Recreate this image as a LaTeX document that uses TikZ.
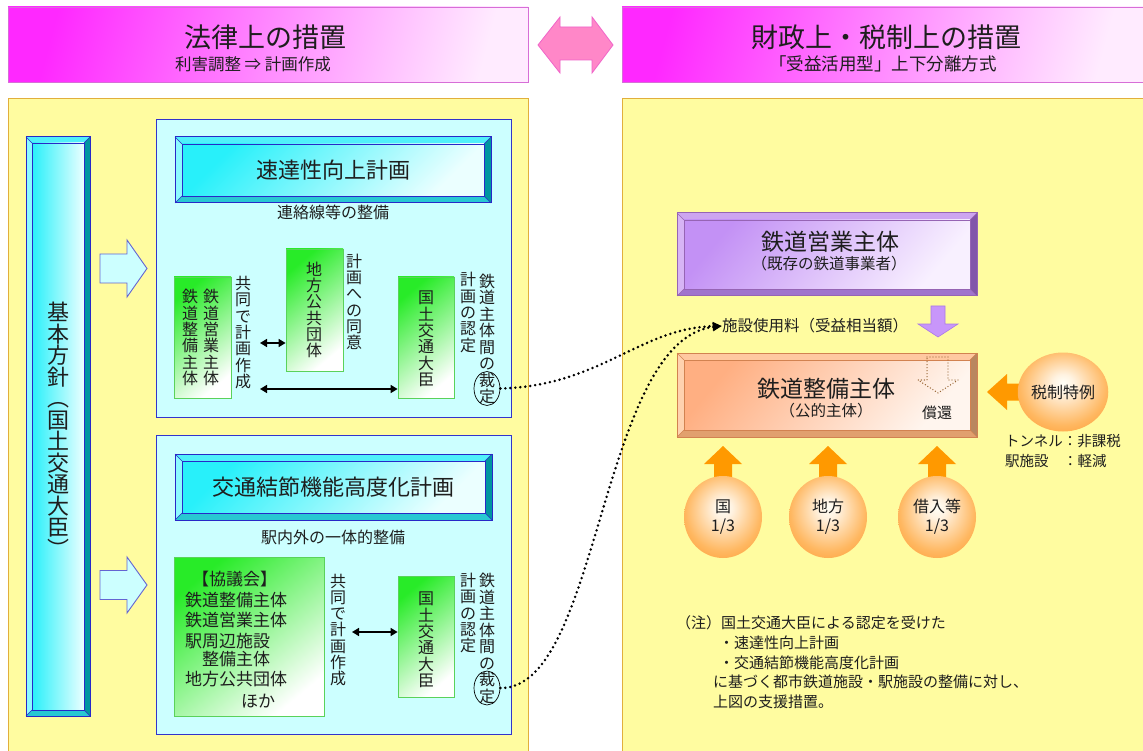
\documentclass[tikz,border=0pt]{standalone}
\usepackage{fontspec}
\setmainfont{Noto Sans CJK JP}
\usetikzlibrary{arrows.meta,shapes.geometric,calc}
\definecolor{yel}{RGB}{255,252,160}
\definecolor{yelLine}{RGB}{225,175,60}
\definecolor{cyPanel}{RGB}{204,255,255}
\definecolor{navy}{RGB}{51,51,204}
\definecolor{cyT}{RGB}{80,240,250}
\definecolor{cyL}{RGB}{140,250,255}
\definecolor{cyR}{RGB}{0,150,160}
\definecolor{cyB}{RGB}{40,200,210}
\definecolor{cyD}{RGB}{40,40,200}
\definecolor{cyA}{RGB}{40,240,250}
\definecolor{cyW}{RGB}{235,255,255}
\definecolor{puT}{RGB}{205,165,240}
\definecolor{puL}{RGB}{215,180,245}
\definecolor{puR}{RGB}{130,85,170}
\definecolor{puB}{RGB}{160,115,205}
\definecolor{puD}{RGB}{150,100,180}
\definecolor{puA}{RGB}{195,145,245}
\definecolor{puW}{RGB}{248,240,255}
\definecolor{orT}{RGB}{255,200,160}
\definecolor{orL}{RGB}{255,210,175}
\definecolor{orR}{RGB}{185,135,95}
\definecolor{orB}{RGB}{225,160,110}
\definecolor{orD}{RGB}{210,130,80}
\definecolor{orA}{RGB}{255,175,130}
\definecolor{orW}{RGB}{255,245,238}
\definecolor{gA}{RGB}{40,235,40}
\definecolor{gLine}{RGB}{90,210,90}
\definecolor{hdA}{RGB}{255,40,255}
\definecolor{hdB}{RGB}{255,235,255}
\definecolor{hdLine}{RGB}{215,110,215}
\definecolor{pinkA}{RGB}{255,135,200}
\definecolor{pinkLine}{RGB}{240,100,200}
\definecolor{orng}{RGB}{255,153,0}
\definecolor{arrFill}{RGB}{204,255,255}
\definecolor{arrLine}{RGB}{100,100,210}
\definecolor{puArr}{RGB}{200,150,250}
\definecolor{puArrLine}{RGB}{170,120,230}
\definecolor{txt}{RGB}{30,30,30}
\definecolor{dotBrown}{RGB}{150,100,50}
\pgfdeclareradialshading{orb}{\pgfpoint{0bp}{6bp}}{rgb(0bp)=(1,1,0.97); rgb(6bp)=(1,0.95,0.88); rgb(24bp)=(1,0.72,0.38); rgb(38bp)=(1,0.58,0.15); rgb(50bp)=(1,0.55,0.1)}
\newcommand\fs[2]{\fontsize{#1}{#2}\selectfont}
% #1 name #2 x1 #3 y1 #4 x2 #5 y2 #6 prefix #7 bevel #8 node options #9 text
\newcommand\bevelnode[9]{%
 \fill[#6T] (#2,#3) -- (#4,#3) -- ({#4-#7},{#3+#7}) -- ({#2+#7},{#3+#7}) -- cycle;
 \fill[#6L] (#2,#3) -- ({#2+#7},{#3+#7}) -- ({#2+#7},{#5-#7}) -- (#2,#5) -- cycle;
 \fill[#6R] (#4,#3) -- (#4,#5) -- ({#4-#7},{#5-#7}) -- ({#4-#7},{#3+#7}) -- cycle;
 \fill[#6B] (#2,#5) -- (#4,#5) -- ({#4-#7},{#5-#7}) -- ({#2+#7},{#5-#7}) -- cycle;
 \node[#6in, minimum width={(#4-#2-2*#7)*1pt}, minimum height={(#5-#3-2*#7)*1pt}, #8] (#1) at ({(#2+#4)/2},{(#3+#5)/2}) {#9};
 \draw[#6D, line width=0.5pt] (#2,#3) -- ({#2+#7},{#3+#7}) (#4,#3) -- ({#4-#7},{#3+#7}) (#2,#5) -- ({#2+#7},{#5-#7}) (#4,#5) -- ({#4-#7},{#5-#7});
 \draw[#6D, line width=1pt] (#2,#3) rectangle (#4,#5);
}
\begin{document}
\begin{tikzpicture}[x=1pt,y=-1pt,
  every node/.style={text=txt},
  hdr/.style={draw=hdLine, line width=0.8pt, left color=hdA, right color=hdB, shading angle=75},
  panel/.style={draw=yelLine, fill=yel, line width=0.8pt, anchor=north west, inner sep=0},
  cpanel/.style={draw=navy, fill=cyPanel, line width=1pt, anchor=north west, inner sep=0},
  cyin/.style={inner sep=0, top color=cyA, bottom color=cyW, shading angle=45, draw=cyD, line width=0.6pt},
  cyvin/.style={inner sep=0, left color=cyA, right color=cyW, draw=cyD, line width=0.6pt},
  puin/.style={inner sep=0, top color=puA, bottom color=puW, shading angle=50, draw=puD, line width=0.5pt},
  orin/.style={inner sep=0, top color=orA, bottom color=orW, shading angle=50, draw=orD, line width=0.5pt},
  gbox/.style={draw=gLine, line width=0.8pt, top color=gA, bottom color=white, shading angle=40, inner sep=0},
  vt/.style={font=\fs{16}{16.3}, align=center, inner sep=0},
  lbl/.style={inner sep=0},
  hollow/.style={draw=arrLine, fill=arrFill, line width=0.9pt, line join=miter},
  blk/.style={fill=orng},
  dblarr/.style={line width=1.5pt, {Triangle[length=7pt,width=8pt]}-{Triangle[length=7pt,width=8pt]}},
  dotconn/.style={line width=2.8pt, dash pattern=on 0pt off 5pt, line cap=round, -{Triangle[length=9pt,width=8pt]}},
  orbn/.style={ellipse, shading=orb, inner sep=0, align=center, font=\fs{16}{19}},
  ovl/.style={ellipse, draw=black, line width=0.7pt, inner sep=0}
]
\useasboundingbox (0,0) rectangle (1143,751);
\fill[white] (0,0) rectangle (1143,751);

% ---------- headers ----------
\node[hdr, minimum width=520pt, minimum height=75pt] (hL) at (268,44.5) {};
\node[lbl, font=\fs{27}{30}] (hLt) at (265,37) {法律上の措置};
\node[lbl, font=\fs{16.5}{18}] (hLs) at (253,64) {利害調整 ⇒ 計画作成};
\node[hdr, minimum width=524pt, minimum height=75pt] (hR) at (884,44.5) {};
\node[lbl, font=\fs{27}{30}] (hRt) at (886,37) {財政上・税制上の措置};
\node[lbl, font=\fs{17.5}{18}] (hRs) at (883,64) {「受益活用型」上下分離方式};
\draw[draw=pinkLine, fill=pinkA, line width=0.8pt, line join=miter]
  (538,45) -- (560,17) -- (560,27) -- (592,27) -- (592,17) -- (613,45)
  -- (592,73) -- (592,60) -- (560,60) -- (560,73) -- cycle;

% ---------- panels ----------
\node[panel, minimum width=520pt, minimum height=670pt] (pL) at (8,98) {};
\node[panel, minimum width=530pt, minimum height=670pt] (pR) at (622,98) {};

% ---------- left: basic policy ----------
\bevelnode{kihon}{26}{137}{90}{716}{cy}{6}{cyvin}{}
\node[lbl, font=\fs{22}{21.5}, align=center] (kihonT) at (58,430)
  {基\\本\\方\\針\\︵\\国\\土\\交\\通\\大\\臣\\︶};

\draw[hollow] (100,254) -- (127,254) -- (127,240) -- (147,268.5) -- (127,297) -- (127,283) -- (100,283) -- cycle;
\draw[hollow] (100,570.5) -- (127,570.5) -- (127,557) -- (147,585) -- (127,613) -- (127,599.5) -- (100,599.5) -- cycle;

% ---------- upper plan ----------
\node[cpanel, minimum width=355pt, minimum height=298pt] (cA) at (156,119) {};
\bevelnode{tA}{175}{137}{491}{203}{cy}{7}{font=\fs{22}{24}}{速達性向上計画}
\node[lbl, font=\fs{16}{18}] (tAsub) at (333,212) {連絡線等の整備};

\node[gbox, minimum width=57pt, minimum height=121pt] (g1) at (202.5,337.5) {};
\node[vt] (g1r) at (211,337.5) {鉄\\道\\営\\業\\主\\体};
\node[vt] (g1l) at (190,337.5) {鉄\\道\\整\\備\\主\\体};
\node[vt] (kyA) at (243,332.5) {共\\同\\で\\計\\画\\作\\成};
\node[gbox, minimum width=57pt, minimum height=122pt] (g2) at (314.5,310) {};
\node[vt] (g2t) at (314,310) {地\\方\\公\\共\\団\\体};
\node[vt] (doi) at (354,302) {計\\画\\へ\\の\\同\\意};
\node[gbox, minimum width=56pt, minimum height=121pt] (g3) at (426,337.5) {};
\node[vt] (g3t) at (426,339) {国\\土\\交\\通\\大\\臣};
\node[vt] (ninA) at (468,312.5) {計\\画\\の\\認\\定};
\node[vt, font=\fs{16}{16.5}] (saiA) at (487,339) {鉄\\道\\主\\体\\間\\の\\裁\\定};
\node[ovl, minimum width=26pt, minimum height=34pt] (ovA) at (487,388.5) {};

\coordinate (a1s) at (260,343);
\draw[dblarr] (a1s) -- (a1s -| g2.west);
\coordinate (a2s) at (260,389);
\draw[dblarr] (a2s) -- (a2s -| g3.west);

% ---------- lower plan ----------
\node[cpanel, minimum width=355pt, minimum height=299pt] (cB) at (156,435) {};
\bevelnode{tB}{175}{454}{492}{520}{cy}{7}{font=\fs{22}{24}}{交通結節機能高度化計画}
\node[lbl, font=\fs{16}{18}] (tBsub) at (333,537) {駅内外の一体的整備};

\node[gbox, minimum width=150pt, minimum height=159pt] (g4) at (249,636.5) {};
\node[lbl, font=\fs{17}{20.5}, align=left, anchor=north west] (g4t) at (185,571)
  {\hspace*{7pt}【協議会】\\鉄道整備主体\\鉄道営業主体\\駅周辺施設\\[-2.5pt]\hspace*{17pt}整備主体\\地方公共団体\\[1pt]\hspace*{56pt}ほか};
\node[vt] (kyB) at (338,630) {共\\同\\で\\計\\画\\作\\成};
\node[gbox, minimum width=56pt, minimum height=121pt] (g5) at (426,636.5) {};
\node[vt] (g5t) at (426,640) {国\\土\\交\\通\\大\\臣};
\node[vt] (ninB) at (468,613) {計\\画\\の\\認\\定};
\node[vt, font=\fs{16}{16.5}] (saiB) at (487,638.5) {鉄\\道\\主\\体\\間\\の\\裁\\定};
\node[ovl, minimum width=26pt, minimum height=34pt] (ovB) at (487,688) {};

\coordinate (a3s) at (352,632);
\draw[dblarr] (a3s) -- (a3s -| g5.west);

% ---------- right side ----------
\bevelnode{eigyo}{677}{213}{977}{296}{pu}{7}{}{}
\node[lbl, font=\fs{23}{26}] (eigyoT) at (830,242) {鉄道営業主体};
\node[lbl, font=\fs{15.5}{18}] (eigyoS) at (829,264) {（既存の鉄道事業者）};

\draw[fill=puArr, draw=puArrLine, line width=0.6pt, line join=miter]
  (931,306) -- (945,306) -- (945,324) -- (958,324) -- (938,337) -- (918,324) -- (931,324) -- cycle;
\node[lbl, font=\fs{15.5}{18}] (fee) at (815,326) {施設使用料（受益相当額）};

\bevelnode{seibi}{677}{353}{977}{437}{or}{7}{}{}
\node[lbl, font=\fs{23}{26}] (seibiT) at (826,389) {鉄道整備主体};
\node[lbl, font=\fs{15.5}{18}] (seibiS) at (826,411) {（公的主体）};
\draw[dotBrown, line width=1.4pt, dash pattern=on 0pt off 3pt, line cap=round]
  (927,357) -- (948,357) -- (948,380) -- (958,380) -- (938,393) -- (918,380) -- (927,380) -- cycle;
\node[lbl, font=\fs{15}{18}] (shokan) at (937,413) {償還};

% tax arrow + circle
\fill[blk] (1032,383.5) -- (1007,383.5) -- (1007,374) -- (987,392) -- (1007,410) -- (1007,400.5) -- (1032,400.5) -- cycle;
\node[orbn, minimum width=86pt, minimum height=79pt] (zei) at (1063,392) {税制特例};
\node[lbl, font=\fs{14.5}{20}, align=left, anchor=west] (zeiT) at (1005,451) {トンネル：非課税\\駅施設　：軽減};

% funding arrows + circles
\foreach \cx/\nm/\tx in {723/kuni/国, 828/chiho/地方, 937/kari/借入等}{
  \fill[blk] (\cx-9,484) -- (\cx-9,464) -- (\cx-19,464) -- (\cx,446) -- (\cx+19,464) -- (\cx+9,464) -- (\cx+9,484) -- cycle;
  \node[orbn, minimum width=78pt, minimum height=82pt] (\nm) at (\cx,517) {\tx\\1/3};
}

% note
\node[lbl, font=\fs{15}{19.75}, align=left, anchor=north west] (note) at (676,615.5)
  {（注）国土交通大臣による認定を受けた\\\hspace*{43pt}・速達性向上計画\\\hspace*{43pt}・交通結節機能高度化計画\\\hspace*{37pt}に基づく都市鉄道施設・駅施設の整備に対し、\\\hspace*{37pt}上図の支援措置。};

% dotted connectors
\draw[dotconn] (ovA.east) .. controls (600,386) and (640,328) .. (fee.west);
\draw[dotconn] (ovB.east) .. controls (600,690) and (600,340) .. (fee.west);
\end{tikzpicture}
\end{document}
